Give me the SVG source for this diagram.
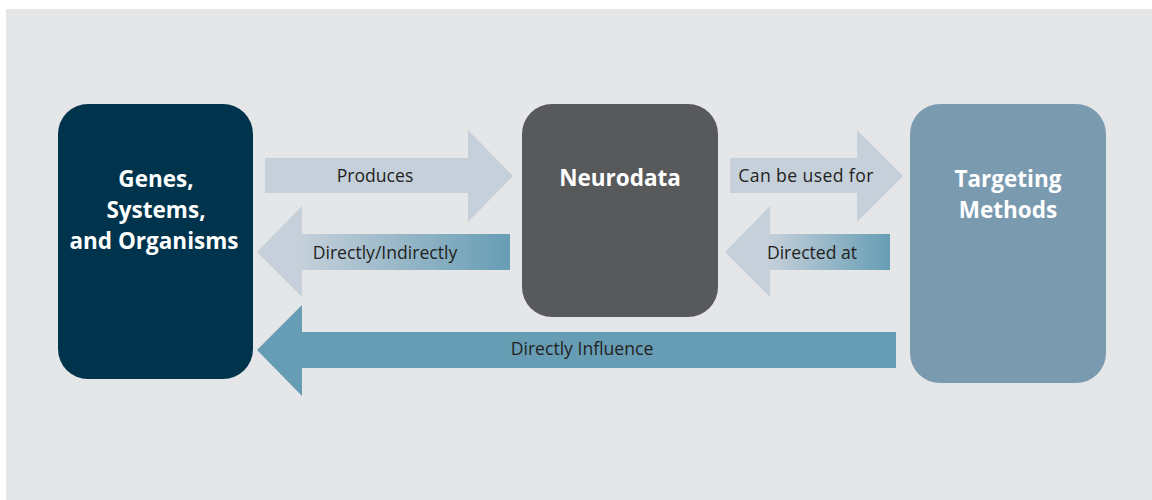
<svg xmlns="http://www.w3.org/2000/svg" width="1152" height="500" viewBox="0 0 1152 500">
<defs>
<linearGradient id="gL" x1="0" y1="0" x2="1" y2="0">
<stop offset="0" stop-color="#c5d0da"/>
<stop offset="0.17" stop-color="#c5d0da"/>
<stop offset="1" stop-color="#669db5"/>
</linearGradient>
<linearGradient id="gR" x1="0" y1="0" x2="1" y2="0">
<stop offset="0" stop-color="#c5d0da"/>
<stop offset="0.27" stop-color="#c5d0da"/>
<stop offset="1" stop-color="#669db5"/>
</linearGradient>
<style>
.title{font-family:"Open Sans",Lato,"Liberation Sans",sans-serif;font-weight:bold;font-size:22.5px;fill:#ffffff;text-anchor:middle}
.lbl{font-family:"Open Sans",Lato,"Liberation Sans",sans-serif;font-size:17.6px;fill:#231f20;text-anchor:middle}
.light{fill:#c5d0da}
</style>
</defs>
<rect x="0" y="0" width="1152" height="500" fill="#ffffff"/>
<rect x="6" y="9" width="1146" height="491" fill="#e5e6e8"/>
<g id="connectors">
<g id="produces">
<polygon class="light" points="265,158 468,158 468,130 513,176 468,222 468,193 265,193"/>
<text class="lbl" x="375" y="182">Produces</text>
</g>
<g id="directly-indirectly">
<polygon fill="url(#gL)" points="510,234 302,234 302,206 257,252 302,297 302,270 510,270"/>
<text class="lbl" x="385" y="259">Directly/Indirectly</text>
</g>
<g id="can-be-used-for">
<polygon class="light" points="730,158 857,158 857,130 903,176 857,222 857,193 730,193"/>
<text class="lbl" x="806" y="182" letter-spacing="0.4">Can be used for</text>
</g>
<g id="directed-at">
<polygon fill="url(#gR)" points="890,234 770,234 770,206 725,252 770,297 770,270 890,270"/>
<text class="lbl" x="812" y="259">Directed at</text>
</g>
<g id="directly-influence">
<polygon fill="#669db5" points="896,332 302,332 302,305 257,350 302,396 302,368 896,368"/>
<text class="lbl" x="582" y="355">Directly Influence</text>
</g>
</g>
<g id="node-genes">
<rect x="58" y="104" width="195" height="275" rx="30" fill="#00344d"/>
<text class="title" x="156" y="187">Genes,</text>
<text class="title" x="156" y="218">Systems,</text>
<text class="title" x="154" y="249">and Organisms</text>
</g>
<g id="node-neurodata">
<rect x="522" y="104" width="196" height="213" rx="30" fill="#58595b"/>
<text class="title" x="620" y="186">Neurodata</text>
</g>
<g id="node-targeting">
<rect x="910" y="104" width="196" height="279" rx="30" fill="#7a9ab0"/>
<text class="title" x="1008" y="187">Targeting</text>
<text class="title" x="1008" y="218">Methods</text>
</g>
</svg>
